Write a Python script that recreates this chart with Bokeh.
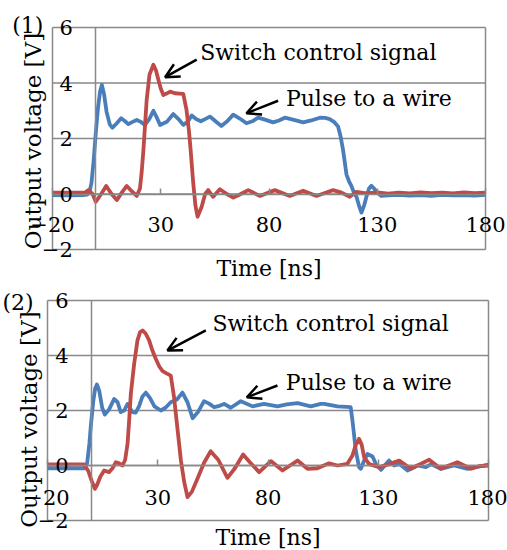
import math
from bokeh.plotting import figure
from bokeh.layouts import column
from bokeh.models import FixedTicker, Arrow, OpenHead, Label, Range1d
from bokeh.embed import file_html
from bokeh.resources import INLINE

# ---------------- data ----------------
x_ticks = [-20, 30, 80, 130, 180]
y_ticks = [-2, 0, 2, 4, 6]

# Panel (1)
t1_blue = [-20, -12, -6, -4, -3, -2, -1, 0, 1, 2,
           2.8, 3.8, 5, 6.5, 7.7, 9.7, 11.7, 13.4, 15, 17,
           18.9, 20.8, 22.7, 24.7, 26.6, 28.2, 29.7, 32.8, 35.8, 38.2,
           40.4, 42.4, 44.3, 46.3, 48.5, 50.5, 52.7, 55.3, 58, 60.7,
           63.5, 66.5, 69.6, 72.3, 75, 78.5, 81.9, 84.6, 87.3, 91.5,
           95.8, 99.5, 103.5, 106, 108, 110, 111.9, 113, 114.2, 115.8,
           117, 118, 119, 120.4, 121.5, 122.7, 124, 125, 126.2, 127.3,
           128.5, 129.6, 131.9, 135, 140, 145, 150, 155, 160, 165,
           170, 175, 180]
v1_blue = [-0.04, -0.05, -0.04, -0.02, 0.05, 0.4, 1.2, 2.2, 3.1, 3.7,
           3.93, 3.6, 2.95, 2.5, 2.39, 2.55, 2.73, 2.63, 2.52, 2.6,
           2.67, 2.6, 2.49, 2.7, 3.0, 2.75, 2.49, 2.6, 2.88, 2.7,
           2.49, 2.6, 2.83, 2.7, 2.62, 2.7, 2.79, 2.62, 2.45, 2.62,
           2.86, 2.72, 2.55, 2.62, 2.75, 2.67, 2.58, 2.65, 2.75, 2.67,
           2.58, 2.65, 2.75, 2.74, 2.7, 2.6, 2.43, 2.1, 1.59, 0.7,
           0.45, 0.3, 0.1, -0.1, -0.4, -0.67, -0.4, -0.1, 0.2, 0.3,
           0.2, 0.08, -0.07, -0.05, -0.03, -0.06, -0.04, -0.07, -0.03, -0.05,
           -0.04, -0.06, -0.03]

t1_red = [-20, -10, -5, -3.4, -1.5, 0, 2.5, 4.8, 7.3, 9.7,
          12, 14.3, 16.6, 18.9, 20.4, 21.2, 22, 23.5, 24.8, 26.6,
          27.8, 28.9, 30, 31.2, 32.7, 34.3, 36.6, 38.5, 40.4, 41.9,
          43, 43.8, 45, 46, 47, 48.9, 50.5, 51.9, 54.2, 57.3,
          60.5, 63.5, 67, 70.4, 75.8, 82.7, 89.6, 95.8, 101.9, 105.5,
          109.6, 113.5, 117.3, 120.4, 125, 130, 135, 140, 145, 150,
          155, 160, 165, 170, 175, 180]
v1_red = [0.05, 0.05, 0.05, 0.14, 0.0, -0.28, 0.0, 0.29, 0.0, -0.22,
          0.05, 0.29, 0.1, -0.07, 0.2, 0.8, 1.59, 3.39, 4.3, 4.66,
          4.45, 4.12, 3.8, 3.57, 3.62, 3.69, 3.63, 3.62, 3.61, 3.03,
          2.3, 1.59, 0.4, -0.4, -0.82, -0.46, 0.0, 0.14, -0.1, 0.17,
          0.0, -0.13, 0.0, 0.14, -0.07, 0.14, -0.07, 0.12, -0.07, 0.03,
          0.14, 0.05, -0.1, 0.08, 0.02, 0.06, 0.01, 0.05, 0.02, 0.06,
          0.03, 0.05, 0.02, 0.06, 0.03, 0.05]

# Panel (2)
t2_blue = [-20, -10, -5, -3, -2, -1, -0.4, 0.7, 1.6, 2.4,
           3.5, 4.8, 6, 8, 10.2, 11.8, 13.2, 14.8, 16.3, 18.5,
           20, 21.5, 23, 24.6, 26.5, 28.5, 31.4, 33.5, 35.9, 38.7,
           41.2, 43.5, 45.8, 48.3, 51, 53.3, 55.6, 58, 60.1, 63.1,
           67.7, 73, 78.2, 84.3, 88.5, 93.4, 99.4, 103.9, 105.4, 111.5,
           117.5, 118.3, 119.8, 121.3, 122.1, 123.6, 125.1, 127.4, 128.9, 131.2,
           134.9, 137.2, 139.5, 143.3, 147.8, 151.6, 154, 158.3, 164.4, 170.5,
           175, 180]
v2_blue = [-0.1, -0.1, -0.1, -0.1, 0.1, 0.8, 1.39, 2.3, 2.8, 2.95,
           2.7, 2.1, 1.85, 2.05, 2.42, 2.3, 1.94, 2.0, 2.24, 1.94,
           1.92, 2.15, 2.5, 2.65, 2.45, 2.15, 2.0, 2.1, 2.3, 2.4,
           2.65, 2.3, 1.72, 1.95, 2.34, 2.25, 2.12, 2.17, 2.24, 2.1,
           2.34, 2.15, 2.24, 2.15, 2.22, 2.27, 2.15, 2.24, 2.24, 2.15,
           2.12, 1.64, 0.55, -0.06, -0.12, 0.18, 0.42, 0.33, 0.06, -0.16,
           0.18, 0.0, 0.06, -0.18, 0.0, -0.06, 0.05, -0.12, 0.0, -0.12,
           -0.05, 0.03]

t2_red = [-20, -10, -5, -3.4, -1.5, 0, 1.5, 2.5, 4, 5.7,
          7.9, 9.5, 11, 12.5, 14, 15.2, 16.3, 17, 17.8, 19.3,
          20.8, 22, 23.1, 24.5, 26.1, 27.5, 29.1, 30.7, 32.2, 34, 35.9,
          37.4, 38.2, 39.4, 40.5, 42, 43.5, 45.5, 48, 51, 54,
          57.5, 61.6, 65, 68.7, 72, 76, 81.3, 86.6, 90, 93.4,
          97.9, 102.4, 107.7, 111.5, 116, 118.3, 119.8, 121.3, 122.5, 123.6,
          125.9, 130.4, 135, 139.5, 144.8, 149, 153.1, 158.4, 162, 165.9,
          172, 176, 180]
v2_red = [0.04, 0.04, 0.04, 0.04, -0.2, -0.55, -0.85, -0.7, -0.4, -0.18,
          -0.24, -0.1, 0.12, 0.08, 0.0, 0.2, 0.79, 1.6, 2.61, 3.7,
          4.55, 4.85, 4.91, 4.8, 4.55, 4.2, 3.88, 3.6, 3.43, 3.35, 3.27,
          2.48, 1.88, 1.0, 0.18, -0.6, -1.15, -0.95, -0.48, 0.1, 0.52,
          0.2, -0.45, -0.1, 0.4, 0.1, -0.24, 0.16, -0.18, 0.0, 0.18,
          -0.12, -0.1, 0.08, 0.0, 0.06, 0.36, 0.75, 0.97, 0.75, 0.3,
          0.05, -0.06, 0.05, 0.18, -0.12, 0.05, 0.21, -0.12, 0.0, 0.12,
          -0.12, -0.02, 0.0]

label_switch = "Switch control signal"
label_pulse = "Pulse to a wire"
label_x = "Time [ns]"
label_y = "Output voltage [V]"

FONT = "DejaVu Serif"
GRID = "#898989"
BLUE = "#4A7EBB"
RED = "#BE4B48"
X_LO, X_HI = x_ticks[0], x_ticks[-1]
Y_LO, Y_HI = y_ticks[0], y_ticks[-1]


def make_panel(tag, tb, vb, tr, vr, height, box, tick_standoff, ann, text_pos):
    # box: pixel position (in the canvas) of the data area: left, right, top, bottom
    left, right, top, bottom = box
    kx = (right - left) / (X_HI - X_LO)
    ky = (bottom - top) / (Y_HI - Y_LO)
    xr = Range1d(X_LO - left / kx, X_HI + (507 - right) / kx)
    yr = Range1d(Y_LO - (height - bottom) / ky, Y_HI + top / ky)

    p = figure(width=507, height=height, x_range=xr, y_range=yr,
               output_backend="svg", toolbar_location=None, title=None,
               min_border_left=0, min_border_right=0,
               min_border_top=0, min_border_bottom=0)
    p.background_fill_color = "white"
    p.border_fill_color = "white"
    p.outline_line_color = None
    p.xgrid.visible = False
    p.ygrid.visible = False

    # horizontal grid lines (incl. top/bottom of the plot box)
    n = len(y_ticks)
    p.segment(x0=[X_LO] * n, x1=[X_HI] * n, y0=y_ticks, y1=y_ticks,
              line_color=GRID, line_width=1.5)
    # left/right sides of the plot box
    p.segment(x0=[X_LO, X_HI], x1=[X_LO, X_HI], y0=[Y_LO, Y_LO], y1=[Y_HI, Y_HI],
              line_color=GRID, line_width=1.5)

    xa = p.xaxis[0]
    xa.fixed_location = 0
    xa.bounds = (X_LO, X_HI)
    xa.ticker = FixedTicker(ticks=x_ticks)
    xa.axis_line_color = GRID
    xa.axis_line_width = 1.5
    xa.major_tick_line_color = GRID
    xa.major_tick_line_width = 1.5
    xa.major_tick_in = 6
    xa.major_tick_out = 0
    xa.minor_tick_line_color = None
    xa.major_label_text_font = FONT
    xa.major_label_text_font_size = "21px"
    xa.major_label_text_color = "black"
    xa.major_label_standoff = tick_standoff

    ya = p.yaxis[0]
    ya.fixed_location = 0
    ya.bounds = (Y_LO, Y_HI)
    ya.ticker = FixedTicker(ticks=y_ticks)
    ya.axis_line_color = GRID
    ya.axis_line_width = 1.5
    ya.major_tick_line_color = None
    ya.minor_tick_line_color = None
    ya.major_tick_in = 0
    ya.major_tick_out = 0
    ya.major_label_text_font = FONT
    ya.major_label_text_font_size = "21px"
    ya.major_label_text_color = "black"
    ya.major_label_standoff = 23

    p.line(tb, vb, line_color=BLUE, line_width=3.8, line_join="round")
    p.line(tr, vr, line_color=RED, line_width=3.8, line_join="round")

    for (text, tx, ty, xs, ys, xe, ye) in ann:
        p.add_layout(Label(x=tx, y=ty, text=text, text_font=FONT, text_font_size="22px",
                           text_align="left", text_baseline="middle", text_color="black"))
        p.add_layout(Arrow(end=OpenHead(size=14, line_width=2.5, line_color="black"),
                           x_start=xs, y_start=ys, x_end=xe, y_end=ye,
                           line_width=2.5, line_color="black"))

    (tagx, tagy), (ylx, yly), (xlx, xly) = text_pos
    p.add_layout(Label(x=tagx, y=tagy, text=tag, text_font=FONT, text_font_size="22px",
                       text_align="right", text_baseline="middle", text_color="black"))
    p.add_layout(Label(x=ylx, y=yly, text=label_y, angle=math.pi / 2,
                       text_font=FONT, text_font_size="23px",
                       text_align="center", text_baseline="middle", text_color="black"))
    p.add_layout(Label(x=xlx, y=xly, text=label_x, text_font=FONT, text_font_size="22px",
                       text_align="center", text_baseline="middle", text_color="black"))
    return p


ann1 = [(label_switch, 48.2, 5.09, 46.6, 4.84, 32.0, 4.21),
        (label_pulse, 87.8, 3.43, 84.2, 3.36, 69.6, 2.91)]
ann2 = [(label_switch, 54.8, 5.16, 51.8, 4.91, 34.4, 4.18),
        (label_pulse, 88.1, 3.02, 84.3, 2.91, 70.4, 2.48)]

pos1 = ((-24.2, 6.07), (-28.8, 1.91), (80, -2.68))
pos2 = ((-26.3, 5.93), (-28.6, 1.67), (80, -2.6))

p1 = make_panel("(1)", t1_blue, v1_blue, t1_red, v1_red, 283, (52, 485, 27, 249), 23, ann1, pos1)
p2 = make_panel("(2)", t2_blue, v2_blue, t2_red, v2_red, 267, (47, 488, 17, 237), 24, ann2, pos2)

layout = column(p1, p2)
open("out.html", "w").write(file_html(layout, INLINE))
